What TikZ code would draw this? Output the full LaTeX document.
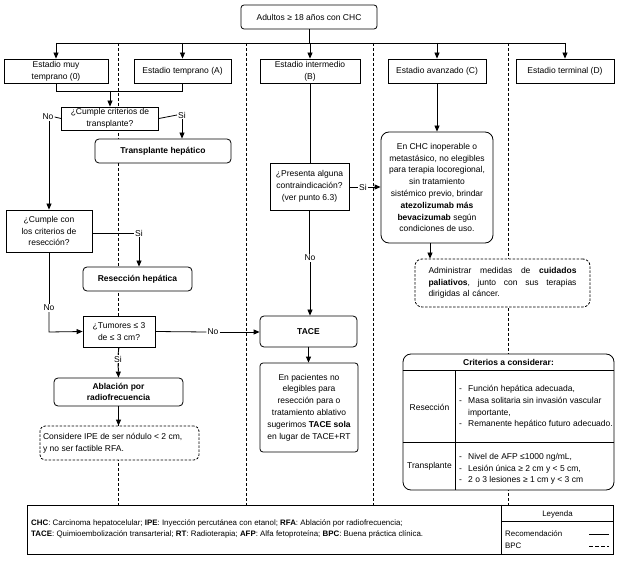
\documentclass[tikz,border=0pt]{standalone}
\usepackage{fontspec}
\setmainfont{Liberation Sans}
\usetikzlibrary{arrows.meta,calc}
\newcommand\fs{\fontsize{8.5}{11.8}\selectfont}
\newcommand\fss{\fontsize{7.9}{11.5}\selectfont}
\newcommand\dsh{\makebox[9pt][l]{-}}
\tikzset{
 base/.style={draw, fill=white, line width=0.8pt, inner sep=1pt, align=center, font=\fs},
 sq/.style={base},
 rd/.style={base, rounded corners=4pt},
 dbox/.style={base, rounded corners=7pt, dash pattern=on 2.5pt off 1.5pt},
 lbl/.style={fill=white, inner sep=1pt, font=\fs},
 arr/.style={line width=0.8pt, -{Triangle[length=6pt,width=5pt]}},
 ln/.style={line width=0.8pt},
 colsep/.style={line width=0.6pt, dash pattern=on 3pt off 2pt},
}
\begin{document}
\begin{tikzpicture}[x=1pt,y=-1pt]
\useasboundingbox (0,0) rectangle (635,564);
% column separators
\foreach \cx/\nm in {118/a,246/b,373/c,508/d}{
  \coordinate (t\nm) at (\cx,43);
  \coordinate (b\nm) at (\cx,505);
  \draw[colsep] (t\nm) -- (b\nm);
}
% top
\node[base, rounded corners=3pt, minimum width=136pt, minimum height=24pt] (top) at (309,17) {Adultos ≥ 18 años con CHC};
\coordinate (bus) at (309,43);
% stages
\node[sq, minimum width=104pt, minimum height=24pt] (s0) at (56,71) {Estadio muy\\temprano (0)};
\node[sq, minimum width=97pt, minimum height=24pt] (sA) at (182.5,71) {Estadio temprano (A)};
\node[sq, minimum width=100pt, minimum height=24pt] (sB) at (310,71) {Estadio intermedio\\(B)};
\node[sq, minimum width=98pt, minimum height=24pt] (sC) at (437,71) {Estadio avanzado (C)};
\node[sq, minimum width=98pt, minimum height=24pt] (sD) at (565,71) {Estadio terminal (D)};
\draw[ln] (top.south) -- (bus);
\draw[ln] (s0.north |- bus) -- (sD.north |- bus);
\foreach \s in {s0,sA,sB,sC,sD}{\draw[arr] (\s.north |- bus) -- (\s.north);}
% early column
\coordinate (j) at (110,91);
\node[sq, minimum width=97pt, minimum height=23pt] (q1) at (110,118.5) {¿Cumple criterios de\\transplante?};
\draw[ln] (s0.south) -- (s0.south |- j) -- (sA.south |- j) -- (sA.south);
\draw[arr] (j) -- (q1.north);
\node[lbl] (no1) at (48,117) {No};
\node[lbl] (si1) at (182,115) {Si};
\node[rd, minimum width=136pt, minimum height=24pt, font=\fs\bfseries] (tr) at (163,151) {Transplante hepático};
\draw[ln] (q1.west) -- (no1.east);
\draw[ln] (q1.east) -- (si1.west);
\draw[arr] (si1.south) -- (si1.south |- tr.north);
\node[sq, minimum width=86pt, minimum height=42pt] (q2) at (49,231) {¿Cumple con\\los criterios de\\resección?};
\draw[arr] (no1.south -| q2.north) -- (q2.north);
\node[lbl] (si2) at (139,233) {Si};
\node[rd, minimum width=109pt, minimum height=24pt, font=\fs\bfseries] (rh) at (137.5,279) {Resección hepática};
\draw[ln] (q2.east |- si2) -- (si2.west);
\draw[arr] (si2.south) -- (si2.south |- rh.north);
\node[lbl] (no2) at (49,308) {No};
\node[sq, minimum width=72pt, minimum height=31pt] (tum) at (119,331.5) {¿Tumores ≤ 3\\de ≤ 3 cm?};
\coordinate (tc) at (49,332);
\draw[ln] (q2.south) -- (no2.north);
\draw[arr] (no2.south) -- (tc) -- (tum.west);
\node[lbl] (si3) at (118,359) {Si};
\node[rd, minimum width=129pt, minimum height=28pt, font=\fs\bfseries] (abl) at (118.5,392) {Ablación por\\radiofrecuencia};
\draw[ln] (tum.south) -- (si3.north);
\draw[arr] (si3.south) -- (abl.north);
\node[dbox, rounded corners=5pt, minimum width=159pt, minimum height=34pt, align=left] (ipe) at (119.5,443) {Considere IPE de ser nódulo < 2 cm,\\y no ser factible RFA.\hspace*{72pt}};
\draw[arr] (abl.south) -- (abl.south |- ipe.north);
% intermediate column
\node[sq, minimum width=79pt, minimum height=47pt] (q3) at (309.5,186.5) {¿Presenta alguna\\contraindicación?\\(ver punto 6.3)};
\draw[ln] (sB.south) -- (sB.south |- q3.north);
\node[lbl] (no4) at (310,258) {No};
\node[rd, minimum width=97pt, minimum height=31pt, font=\fs\bfseries] (tace) at (308.5,331.5) {TACE};
\draw[ln] (q3.south) -- (q3.south |- no4.north);
\draw[arr] (no4.south) -- (no4.south |- tace.north);
\node[lbl] (no3) at (213,332) {No};
\draw[ln] (tum.east) -- (no3.west);
\draw[arr] (no3.east) -- (tace.west |- no3);
\node[base, rounded corners=3pt, minimum width=98pt, minimum height=89pt] (tbox) at (309,407.5) {En pacientes no\\elegibles para\\resección para o\\tratamiento ablativo\\sugerimos \textbf{TACE sola}\\en lugar de TACE+RT};
\draw[arr] (tace.south |- tbox.north) ++(0,-16) -- (tace.south |- tbox.north);
% advanced column
\node[base, rounded corners=8pt, minimum width=112pt, minimum height=111pt] (cbox) at (437,187.5) {En CHC inoperable o\\metastásico, no elegibles\\para terapia locoregional,\\sin tratamiento\\sistémico previo, brindar\\\textbf{atezolizumab más}\\\textbf{bevacizumab} según\\condiciones de uso.};
\draw[arr] (sC.south) -- (sC.south |- cbox.north);
\node[lbl] (si4) at (363,187) {Si};
\draw[ln] (q3.east |- si4) -- (si4.west);
\draw[arr] (si4.east) -- (cbox.west |- si4);
\node[dbox, minimum width=175pt, minimum height=48pt, text width=148pt, align=left] (pal) at (502.5,283) {Administrar\hfill medidas\hfill de\hfill \textbf{cuidados}\\\textbf{paliativos},\hfill junto\hfill con\hfill sus\hfill terapias\\dirigidas al cáncer.};
\coordinate (cb) at ($(cbox.south)+(-7,0)$);
\draw[arr] (cb) -- (cb |- pal.north);
% criteria table
\node[base, rounded corners=8pt, minimum width=211pt, minimum height=136pt] (crit) at (508.5,422) {};
\draw[ln] ($(crit.north west)+(0,17)$) -- ($(crit.north east)+(0,17)$);
\draw[ln] ($(crit.north west)+(0,89)$) -- ($(crit.north east)+(0,89)$);
\draw[ln] ($(crit.north west)+(53,17)$) -- ($(crit.south west)+(53,0)$);
\node[font=\fs\bfseries, inner sep=0pt] (crith) at (508.5,362.5) {Criterios a considerar:};
\node[font=\fs, inner sep=0pt] (rlab) at (429.5,407) {Resección};
\node[font=\fs, inner sep=0pt] (tlab) at (429.5,466) {Transplante};
\node[font=\fs, inner sep=0pt, anchor=west, align=left] (ritems) at (459,407) {\dsh Función hepática adecuada,\\\dsh Masa solitaria sin invasión vascular\\\hspace*{9pt}importante,\\\dsh Remanente hepático futuro adecuado.};
\node[font=\fs, inner sep=0pt, anchor=west, align=left] (titems) at (459,469) {\dsh Nivel de AFP ≤1000 ng/mL,\\\dsh Lesión única ≥ 2 cm y < 5 cm,\\\dsh 2 o 3 lesiones ≥ 1 cm y < 3 cm};
% legend
\node[draw, line width=0.8pt, fill=white, minimum width=586pt, minimum height=49pt] (leg) at (320,529.5) {};
\draw[ln] ($(leg.north west)+(475,0)$) -- ($(leg.south west)+(475,0)$);
\draw[ln] ($(leg.north west)+(475,17)$) -- ($(leg.north east)+(0,17)$);
\node[font=\fss, inner sep=0pt] (leyh) at (557.5,514) {Leyenda};
\node[font=\fss, inner sep=0pt, anchor=west] (lrec) at (505,534) {Recomendación};
\node[font=\fss, inner sep=0pt, anchor=west] (lbpc) at (505,546) {BPC};
\coordinate (r1) at (589,534); \coordinate (r2) at (609,534);
\coordinate (p1) at (589,546); \coordinate (p2) at (609,546);
\draw[line width=1pt] (r1) -- (r2);
\draw[line width=1pt, dash pattern=on 4pt off 2pt] (p1) -- (p2);
\node[font=\fss, inner sep=0pt, anchor=west, align=left] (abbr) at (31,529) {\textbf{CHC}: Carcinoma hepatocelular; \textbf{IPE}: Inyección percutánea con etanol; \textbf{RFA}: Ablación por radiofrecuencia;\\\textbf{TACE}: Quimioembolización transarterial; \textbf{RT}: Radioterapia; \textbf{AFP}: Alfa fetoproteína; \textbf{BPC}: Buena práctica clínica.};
\end{tikzpicture}
\end{document}
